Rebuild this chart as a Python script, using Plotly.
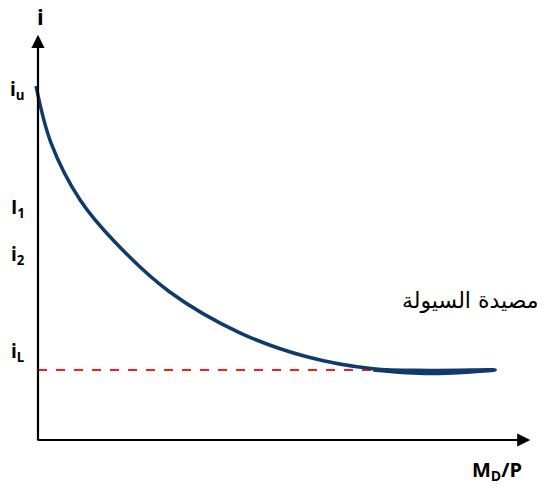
import plotly.graph_objects as go

# Liquidity-preference curve (interest rate vs. real money demand)
curve_x = [-0.04, 0.265, 0.86, 1.57, 2.69, 4.12, 5.49, 6.84, 8.0, 9.33, 8.0, 6.84]
curve_y = [8.85, 7.43, 6.00, 4.95, 3.70, 2.68, 2.08, 1.78, 1.74, 1.75, 1.66, 1.75]

# Floor rate i_L (liquidity trap level)
floor_x = [0.0, 6.9]
floor_y = [1.75, 1.75]

# Interest-rate labels on the vertical axis
rate_labels = ["i<sub>u</sub>", "I<sub>1</sub>", "i<sub>2</sub>", "i<sub>L</sub>"]
rate_levels = [8.75, 5.8, 4.62, 2.2]

axis_label_x = "M<sub>D</sub>/P"
axis_label_y = "i"
trap_label = "مصيدة السيولة"

fig = go.Figure()

fig.add_trace(go.Scatter(
    x=floor_x, y=floor_y, mode="lines",
    line=dict(color="#ff1a1a", width=1.8, dash="dash"),
    hoverinfo="skip",
))
fig.add_trace(go.Scatter(
    x=curve_x, y=curve_y, mode="lines",
    line=dict(color="#0f3a6a", width=3.5, shape="spline", smoothing=1.0),
    hoverinfo="skip",
))

label_font = dict(family="'Open Sans', Lato, sans-serif", size=19, color="black")

annotations = []
# axes drawn as arrows
annotations.append(dict(x=0, y=10.13, ax=0, ay=-0.05, xref="x", yref="y", axref="x", ayref="y",
                        showarrow=True, arrowhead=2, arrowsize=1.2, arrowwidth=2.2, arrowcolor="black", text=""))
annotations.append(dict(x=10.05, y=0, ax=-0.03, ay=0, xref="x", yref="y", axref="x", ayref="y",
                        showarrow=True, arrowhead=2, arrowsize=1.2, arrowwidth=2.2, arrowcolor="black", text=""))

for lbl, lvl in zip(rate_labels, rate_levels):
    annotations.append(dict(x=-0.41, y=lvl, xref="x", yref="y", text="<b>" + lbl + "</b>",
                            showarrow=False, font=label_font))

annotations.append(dict(x=0.05, y=10.6, xref="x", yref="y", text="<b>" + axis_label_y + "</b>",
                        showarrow=False, font=dict(family="'Open Sans', sans-serif", size=22, color="black")))
annotations.append(dict(x=9.37, y=-0.75, xref="x", yref="y", text="<b>" + axis_label_x + "</b>",
                        showarrow=False, font=dict(family="'Open Sans', sans-serif", size=20, color="black")))
annotations.append(dict(x=8.82, y=3.5, xref="x", yref="y", text=trap_label,
                        showarrow=False, font=dict(family="'DejaVu Sans', sans-serif", size=22, color="black")))

fig.update_layout(
    width=549, height=489,
    margin=dict(l=0, r=0, t=0, b=0),
    paper_bgcolor="white", plot_bgcolor="white",
    showlegend=False,
    xaxis=dict(range=[-0.7755, 10.43], visible=False, fixedrange=True),
    yaxis=dict(range=[-1.225, 11.0], visible=False, fixedrange=True),
    annotations=annotations,
)

fig.write_html("out.html")
